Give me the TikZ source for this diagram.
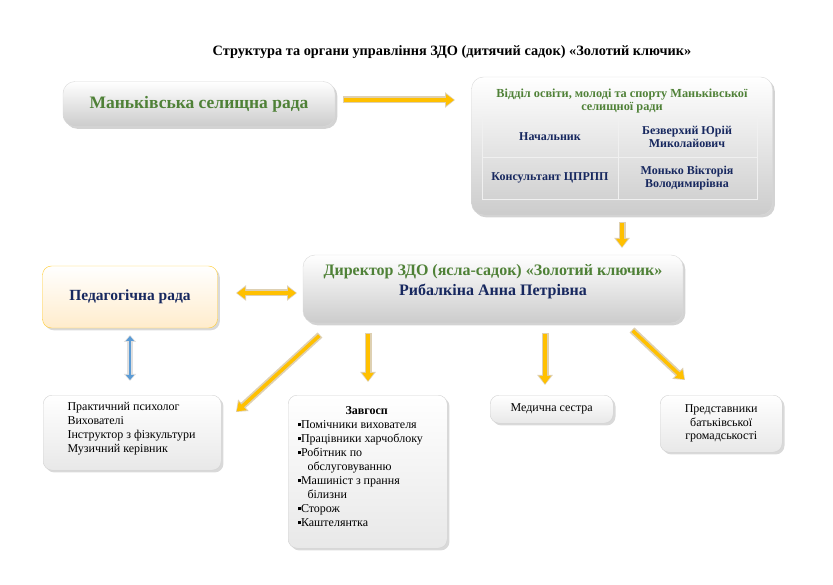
\documentclass[tikz,border=0pt]{standalone}
\usepackage{fontspec}
\setmainfont{Liberation Serif}
\usetikzlibrary{positioning}
\usetikzlibrary{arrows.meta}
\usetikzlibrary{shadows}
\definecolor{zgreen}{RGB}{79,129,55}
\definecolor{znavy}{RGB}{23,40,95}
\definecolor{zyellow}{RGB}{255,192,0}
\definecolor{zbeige}{RGB}{222,208,178}
\definecolor{zblue}{RGB}{91,155,213}
\tikzset{gbox/.style={draw=gray!30,rounded corners=12pt,top color=white,bottom color=gray!40,drop shadow={opacity=0.35},inner sep=2pt}}
\tikzset{wbox/.style={draw=gray!35,rounded corners=9pt,top color=white,bottom color=gray!18,drop shadow={opacity=0.3},inner sep=3pt,font=\fontsize{12}{13.5}\selectfont}}
\tikzset{outl/.style={line width=7pt,draw=zbeige,-{Triangle[width=15pt,length=10pt]}}}
\tikzset{yarr/.style={line width=3.5pt,draw=zyellow,-{Triangle[width=11pt,length=8pt]}}}
\tikzset{boutl/.style={line width=6pt,draw=gray!25,{Triangle[width=12pt,length=7pt]}-{Triangle[width=12pt,length=7pt]}}}
\tikzset{barr/.style={line width=2.5pt,draw=zblue,{Triangle[width=8pt,length=5pt]}-{Triangle[width=8pt,length=5pt]}}}
\tikzset{ydbl/.style={line width=3.5pt,draw=zyellow,{Triangle[width=11pt,length=8pt]}-{Triangle[width=11pt,length=8pt]}}}
\tikzset{ydblo/.style={line width=7pt,draw=zbeige,{Triangle[width=15pt,length=10pt]}-{Triangle[width=15pt,length=10pt]}}}
\newcommand{\yarrow}[2]{\draw[outl] (#1) -- (#2); \draw[yarr,shorten >=1pt,shorten <=1pt] (#1) -- (#2);}
\newcommand{\zsq}{\rule[2pt]{3.5pt}{3.5pt}}
\begin{document}
\begin{tikzpicture}[x=1pt,y=-1pt]
\useasboundingbox (0,0) rectangle (833,585);
\node[font=\fontsize{14.3}{16}\selectfont\bfseries] (title) at (452,52) {Структура та органи управління ЗДО (дитячий садок) «Золотий ключик»};
% top row
\node[gbox,minimum width=272pt,minimum height=45pt] (rada) at (199,104) {};
\node[font=\fontsize{17.5}{20}\selectfont\bfseries,text=zgreen] at (rada) {Маньківська селищна рада};
\node[gbox,minimum width=301pt,minimum height=138pt] (viddil) at (622,146) {};
\node[font=\fontsize{12.3}{13.5}\selectfont\bfseries,text=zgreen,align=center] (vtitle) at (622,101) {Відділ освіти, молоді та спорту Маньківської\\селищної ради};
\draw[gray!12,line width=1pt] (482,117) rectangle (757,200) (618,117) -- (618,200) (482,158) -- (757,158);
\begin{scope}[font=\fontsize{12}{13}\selectfont\bfseries,text=znavy,align=center]
\node (nach) at (550,137) {Начальник};
\node (nachn) at (687,137) {Безверхий Юрій\\Миколайович};
\node (kons) at (550,178) {Консультант ЦПРПП};
\node (konsn) at (687,178) {Монько Вікторія\\Володимирівна};
\end{scope}
% middle row
\node[gbox,minimum width=380pt,minimum height=68pt] (dir) at (493,289) {};
\node[font=\fontsize{16}{20}\selectfont\bfseries,align=center] at (493,282) {\textcolor{zgreen}{Директор ЗДО (ясла-садок) «Золотий ключик»}\\\textcolor{znavy}{Рибалкіна Анна Петрівна}};
\node[draw=zyellow!80,rounded corners=9pt,top color=white,bottom color=yellow!25!orange!20,drop shadow={opacity=0.3},minimum width=175pt,minimum height=62pt,font=\fontsize{15.5}{17}\selectfont\bfseries,text=znavy] (ped) at (130,297) {Педагогічна рада};
% bottom row
\node[wbox,minimum width=178pt,minimum height=75pt,align=left,anchor=north west] (pract) at (43,395) {};
\node[font=\fontsize{12}{14}\selectfont,align=left,anchor=north west] at (64,399) {Практичний психолог\\Вихователі\\Інструктор з фізкультури\\Музичний керівник};
\node[wbox,minimum width=159pt,minimum height=153pt,anchor=north west] (zavh) at (288,395) {};
\node[font=\fontsize{12}{14}\selectfont,align=left,anchor=north west] at (294,403) {\hspace*{48pt}\textbf{Завгосп}\\\zsq Помічники вихователя\\\zsq Працівники харчоблоку\\\zsq Робітник по\\\hspace*{10pt}обслуговуванню\\\zsq Машиніст з прання\\\hspace*{10pt}білизни\\\zsq Сторож\\\zsq Каштелянтка};
\node[wbox,minimum width=123pt,minimum height=28pt,anchor=north west] (med) at (490,395) {Медична сестра};
\node[wbox,minimum width=122pt,minimum height=57pt,anchor=north west,align=center] (repr) at (660,395) {Представники\\батьківської\\громадськості};
% arrows
\coordinate (a1) at (343,100); \coordinate (b1) at (455,100);
\coordinate (a2) at (622,222); \coordinate (b2) at (622,248);
\coordinate (a3) at (320,335); \coordinate (b3) at (236,412);
\coordinate (a4) at (368,333); \coordinate (b4) at (368,382);
\coordinate (a5) at (545,333); \coordinate (b5) at (545,385);
\coordinate (a6) at (632,330); \coordinate (b6) at (685,380);
\yarrow{a1}{b1}
\yarrow{a2}{b2}
\yarrow{a3}{b3}
\yarrow{a4}{b4}
\yarrow{a5}{b5}
\yarrow{a6}{b6}
\coordinate (d1) at (236,293); \coordinate (d2) at (297,293);
\draw[ydblo] (d1) -- (d2); \draw[ydbl,shorten >=1pt,shorten <=1pt] (d1) -- (d2);
\coordinate (v1) at (130,335); \coordinate (v2) at (130,381);
\draw[boutl] (v1) -- (v2); \draw[barr,shorten >=1pt,shorten <=1pt] (v1) -- (v2);
\end{tikzpicture}
\end{document}
